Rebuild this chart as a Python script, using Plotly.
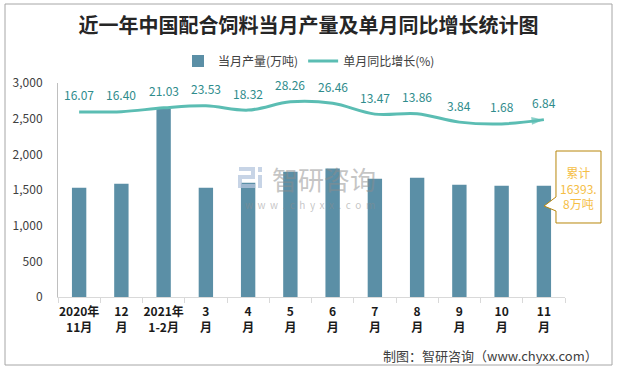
import plotly.graph_objects as go

# ---------------- data ----------------
categories = ["2020年11月", "12月", "2021年1-2月", "3月", "4月", "5月",
              "6月", "7月", "8月", "9月", "10月", "11月"]
tick_line1 = ["2020年", "12", "2021年", "3", "4", "5", "6", "7", "8", "9", "10", "11"]
tick_line2 = ["11月", "月", "1-2月", "月", "月", "月", "月", "月", "月", "月", "月", "月"]
output_wan_t = [1533, 1589, 2636, 1533, 1603, 1757, 1803, 1659, 1673, 1575, 1561, 1561]
yoy_growth = [16.07, 16.40, 21.03, 23.53, 18.32, 28.26, 26.46, 13.47, 13.86, 3.84, 1.68, 6.84]
y_ticks = [0, 500, 1000, 1500, 2000, 2500, 3000]
cumulative_text = "累计<br>16393.<br>8万吨"

# ---------------- geometry helpers (plot area in pixels) ----------------
W, H = 617, 369
L, R, T, B = 58, 565, 83, 297


def px(x):
    return (x - L) / (R - L)


def py(y):
    return (B - y) / (B - T)


FONT = "Noto Sans CJK SC, Noto Sans, sans-serif"
BAR_C = "#5B8FA6"
LINE_C = "#5BBDB3"
LABEL_C = "#2F8C8C"

fig = go.Figure()

fig.add_trace(go.Bar(
    x=categories, y=output_wan_t, name="当月产量(万吨)",
    marker=dict(color=BAR_C, line=dict(width=0)),
    width=0.34, yaxis="y",
))

fig.add_trace(go.Scatter(
    x=categories, y=yoy_growth, name="单月同比增长(%)",
    mode="lines", line=dict(color=LINE_C, width=3, shape="spline", smoothing=1.0),
    yaxis="y2",
))

n = len(categories)
sizes = [11] + [0] * (n - 2) + [13]
symbols = ["circle"] + ["circle"] * (n - 2) + ["arrow"]
colors = ["#F5B322"] + [LINE_C] * (n - 1)
fig.add_trace(go.Scatter(
    x=categories, y=yoy_growth, mode="markers", showlegend=False,
    marker=dict(size=sizes, symbol=symbols, color=colors, angleref="previous",
                line=dict(width=0)),
    yaxis="y2", hoverinfo="skip", cliponaxis=False,
))

annotations = []
for c, v in zip(categories, yoy_growth):
    annotations.append(dict(
        x=c, y=v, xref="x", yref="y2", yshift=17, showarrow=False,
        xanchor="center", yanchor="middle",
        text=f"{v:.2f}", font=dict(family=FONT, size=12, color=LABEL_C),
    ))

# watermark
annotations.append(dict(
    x=px(324), y=py(178), xref="paper", yref="paper", showarrow=False,
    xanchor="center", yanchor="middle",
    text="智研咨询", font=dict(family=FONT, size=26, color="rgba(140,140,140,0.5)"),
))
annotations.append(dict(
    x=px(310), y=py(204), xref="paper", yref="paper", showarrow=False,
    xanchor="center", yanchor="middle",
    text="w  w  w  .  c  h  y  x  x  .  c  o  m",
    font=dict(family=FONT, size=10, color="rgba(140,140,140,0.5)"),
))

# callout text
annotations.append(dict(
    x=px(578.5), y=py(187.5), xref="paper", yref="paper", showarrow=False,
    xanchor="center", yanchor="middle",
    text=cumulative_text, align="center",
    font=dict(family=FONT, size=12, color="#F5BE45"),
))

# footer
annotations.append(dict(
    x=px(600), y=py(355), xref="paper", yref="paper", showarrow=False,
    xanchor="right", yanchor="middle",
    text="制图：智研咨询（www.chyxx.com）",
    font=dict(family=FONT, size=13, color="#404040"),
))

shapes = []
# outer border
shapes.append(dict(type="rect", xref="paper", yref="paper",
                   x0=px(5), x1=px(612), y0=py(365), y1=py(4),
                   line=dict(color="#A6A6A6", width=1), fillcolor="rgba(0,0,0,0)"))
# callout box with notch
pts = [(556, 151), (601, 151), (601, 223), (556, 223), (556, 211), (544, 206), (556, 197)]
path = "M " + " L ".join(f"{px(x):.4f},{py(y):.4f}" for x, y in pts) + " Z"
shapes.append(dict(type="path", xref="paper", yref="paper", path=path,
                   fillcolor="white", line=dict(color="#B8860B", width=1)))
# watermark logo
logo = [(239, 169), (253, 169), (253, 177), (240, 177), (240, 186), (255, 186)]
lpath = "M " + " L ".join(f"{px(x):.4f},{py(y):.4f}" for x, y in logo)
shapes.append(dict(type="path", xref="paper", yref="paper", path=lpath,
                   line=dict(color="rgba(180,198,222,0.75)", width=4)))
shapes.append(dict(type="rect", xref="paper", yref="paper",
                   x0=px(258), x1=px(262), y0=py(188), y1=py(175),
                   fillcolor="rgba(180,198,222,0.75)", line=dict(width=0)))
shapes.append(dict(type="rect", xref="paper", yref="paper",
                   x0=px(258), x1=px(262), y0=py(172), y1=py(167),
                   fillcolor="rgba(180,198,222,0.75)", line=dict(width=0)))

ticktext = [f"<b>{a}</b><br><b>{b}</b>" for a, b in zip(tick_line1, tick_line2)]

fig.update_layout(
    width=W, height=H,
    margin=dict(l=L, r=W - R, t=T, b=H - B, pad=0, autoexpand=False),
    paper_bgcolor="white", plot_bgcolor="white",
    font=dict(family=FONT, color="#404040", size=12),
    title=dict(text="<b>近一年中国配合饲料当月产量及单月同比增长统计图</b>",
               x=0.5, xref="container", xanchor="center",
               y=1 - 26 / H, yref="container", yanchor="middle",
               font=dict(family=FONT, size=20, color="#262626")),
    legend=dict(orientation="h", x=px(309), xanchor="center", xref="paper",
                y=py(61), yanchor="middle", yref="paper",
                font=dict(family=FONT, size=12, color="#404040"),
                traceorder="normal", entrywidth=0,
                bgcolor="rgba(0,0,0,0)"),
    bargap=0.66,
    xaxis=dict(type="category", categoryorder="array", categoryarray=categories,
               range=[-0.5, len(categories) - 0.5],
               tickmode="array", tickvals=categories, ticktext=ticktext,
               showline=True, linecolor="#D9D9D9", linewidth=1,
               ticks="outside", tickson="boundaries", ticklen=5, tickcolor="#D9D9D9",
               showgrid=False, zeroline=False, tickangle=0, ticklabelstandoff=4,
               tickfont=dict(family=FONT, size=12, color="#1A1A1A")),
    yaxis=dict(range=[0, 3000], tickvals=y_ticks, tickformat=",",
               showline=True, linecolor="#BFBFBF", linewidth=1,
               showgrid=False, zeroline=False, ticks="", ticklabelstandoff=12,
               tickfont=dict(family=FONT, size=12, color="#404040")),
    yaxis2=dict(overlaying="y", range=[-207, 51], visible=False, showgrid=False),
    annotations=annotations,
    shapes=shapes,
    showlegend=True,
)

fig.write_html("out.html", config={"displayModeBar": False},
               post_script="document.body.style.margin='0';")
